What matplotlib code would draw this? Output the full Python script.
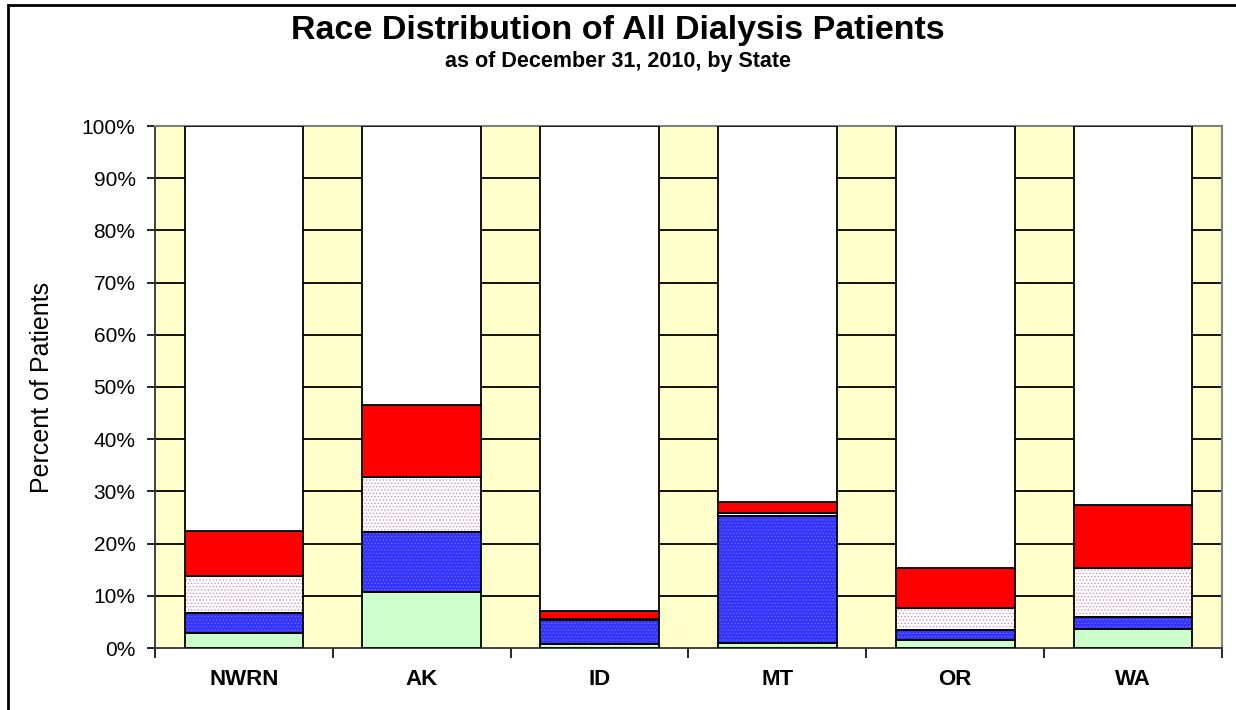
import matplotlib
matplotlib.use("Agg")
import matplotlib.pyplot as plt
from matplotlib.patches import Rectangle
import numpy as np

plt.rcParams["font.family"] = ["Liberation Sans", "DejaVu Sans"]
plt.rcParams["hatch.linewidth"] = 0.6

# data (percent of patients, stacked bottom -> top)
states = ["NWRN", "AK", "ID", "MT", "OR", "WA"]
other_unknown = [2.9, 10.8, 0.8, 0.9, 1.5, 3.6]
native_american = [3.9, 11.5, 4.6, 24.4, 1.9, 2.4]
black = [6.9, 10.5, 0.2, 0.5, 4.3, 9.3]
asian = [8.8, 13.8, 1.4, 2.2, 7.6, 12.1]
white = [100 - (a + b + c + d) for a, b, c, d in
         zip(other_unknown, native_american, black, asian)]

series = [
    ("Other/Unknown", other_unknown, "#CCFFCC", None, None),
    ("Native American", native_american, "#3333FF", ".....", "#6A6AFF"),
    ("Black", black, "white", ".....", "#CC8FCC"),
    ("Asian", asian, "#FF0000", None, None),
    ("White", white, "white", None, None),
]

fig = plt.figure(figsize=(12.36, 7.10), dpi=100)
ax = fig.add_axes([155 / 1236, 62 / 710, 1067 / 1236, 522 / 710])
ax.set_facecolor("#FFFFCC")

x = np.arange(len(states))
width = 0.667
bottom = np.zeros(len(states))
for name, vals, color, hatch, hcolor in series:
    vals = np.array(vals)
    if hatch:
        ax.bar(x, vals, width, bottom=bottom, color=color, hatch=hatch,
               edgecolor=hcolor, linewidth=0, zorder=2)
        ax.bar(x, vals, width, bottom=bottom, fill=False,
               edgecolor="black", linewidth=1.3, zorder=3, label=name)
    else:
        ax.bar(x, vals, width, bottom=bottom, color=color,
               edgecolor="black", linewidth=1.3, zorder=3, label=name)
    bottom += vals

# gridlines
for yv in range(10, 100, 10):
    ax.axhline(yv, color="black", linewidth=1.3, zorder=1)

ax.set_xlim(-0.5, len(states) - 0.5)
ax.set_ylim(0, 100)
ax.set_yticks(range(0, 101, 10))
ax.set_yticklabels([f"{v}%" for v in range(0, 101, 10)], fontsize=15)
ax.tick_params(axis="y", length=6, width=1.2, direction="out", pad=8)

ax.set_xticks(x)
ax.set_xticklabels(states, fontsize=16, fontweight="bold")
ax.tick_params(axis="x", which="major", length=0, pad=15)
ax.set_xticks(np.arange(-0.5, len(states), 1.0), minor=True)
ax.tick_params(axis="x", which="minor", length=7, width=1.2, direction="out")

ax.set_ylabel("Percent of Patients", fontsize=18, labelpad=20)

for side in ["top", "right"]:
    ax.spines[side].set_color("#808080")
    ax.spines[side].set_linewidth(1.5)
for side in ["left", "bottom"]:
    ax.spines[side].set_color("#333333")
    ax.spines[side].set_linewidth(1.3)

fig.text(0.5, 1 - 30 / 710, "Race Distribution of All Dialysis Patients",
         ha="center", va="center", fontsize=24.5, fontweight="bold")
fig.text(0.5, 1 - 61 / 710, "as of December 31, 2010, by State",
         ha="center", va="center", fontsize=15.5, fontweight="bold")

# outer chart frame
fig.patches.append(Rectangle((8 / 1236, -0.1), 1.2, 1.1 - 5 / 710,
                             transform=fig.transFigure, fill=False,
                             edgecolor="black", linewidth=2))

fig.savefig("out.png", dpi=100)
